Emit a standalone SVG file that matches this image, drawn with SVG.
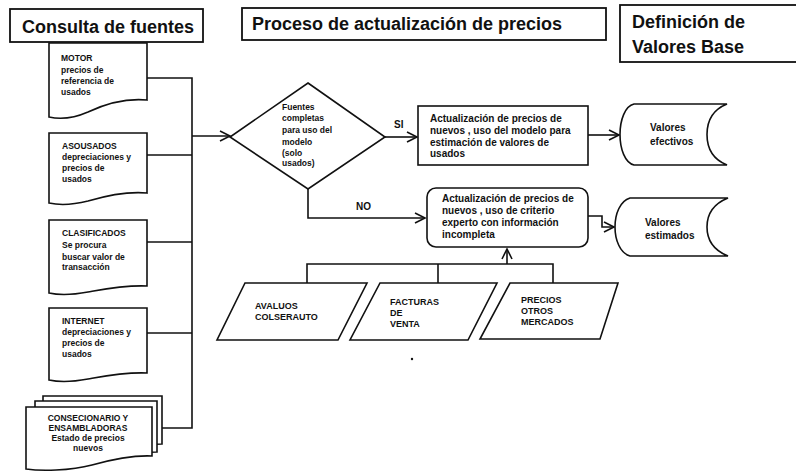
<svg xmlns="http://www.w3.org/2000/svg" width="796" height="476" viewBox="0 0 796 476">
<style>
  .shape { fill: #fff; stroke: #111; stroke-width: 1.6; }
  .hdr { fill: #fff; stroke: #111; stroke-width: 1.8; }
  .line { fill: none; stroke: #111; stroke-width: 1.6; }
  text { font-family: "Liberation Sans", Arial, sans-serif; font-weight: bold; fill: #111; }
  .h { font-size: 18px; }
  .s { font-size: 8.5px; }
  .m { font-size: 10px; }
  .p { font-size: 9px; }
</style>
<defs>
  <marker id="arr" markerUnits="userSpaceOnUse" markerWidth="14" markerHeight="14" refX="11" refY="6" orient="auto">
    <path d="M1,1 L11,6 L1,11" fill="none" stroke="#111" stroke-width="1.6"/>
  </marker>
</defs>
<rect width="796" height="476" fill="#fff"/>

<!-- Headers -->
<g id="hdr-consulta">
  <rect class="hdr" x="10" y="9" width="193" height="33"/>
  <text class="h" x="22" y="33">Consulta de fuentes</text>
</g>
<g id="hdr-proceso">
  <rect class="hdr" x="242" y="8" width="364" height="32"/>
  <text class="h" x="252" y="30">Proceso de actualización de precios</text>
</g>
<g id="hdr-definicion">
  <rect class="hdr" x="620" y="5" width="190" height="57"/>
  <text class="h" x="632" y="28">Definición de</text>
  <text class="h" x="632" y="53">Valores Base</text>
</g>

<!-- Connectors -->
<g id="connectors">
  <path class="line" d="M147,78 H192 V428 H162"/>
  <path class="line" d="M147,155 H192"/>
  <path class="line" d="M147,242 H192"/>
  <path class="line" d="M147,333 H192"/>
  <path class="line" d="M192,136 H230" marker-end="url(#arr)"/>
  <path class="line" d="M385,137 H417" marker-end="url(#arr)"/>
  <path class="line" d="M308,188 V218 H425" marker-end="url(#arr)"/>
  <path class="line" d="M588,135 H619" marker-end="url(#arr)"/>
  <path class="line" d="M588,216 H602 V227 H614" marker-end="url(#arr)"/>
  <path class="line" d="M307,283 V264 H553 V283"/>
  <path class="line" d="M438,264 V283"/>
  <path class="line" d="M507,264 V249" marker-end="url(#arr)"/>
  <text class="m" x="394" y="128">SI</text>
  <text class="m" x="356" y="210">NO</text>
</g>

<!-- Source documents -->
<g id="doc-motor">
  <path class="shape" d="M49,43 H147 V100 C125,98 105,104 88,112 C72,119 58,119 49,117 Z"/>
  <text class="s" x="61" y="61">MOTOR</text>
  <text class="s" x="61" y="73">precios de</text>
  <text class="s" x="61" y="84">referencia de</text>
  <text class="s" x="61" y="95">usados</text>
</g>
<g id="doc-asousados">
  <path class="shape" d="M49,133 H147 V193 C125,191 105,196 88,201 C72,205 58,205 49,203 Z"/>
  <text class="s" x="62" y="149">ASOUSADOS</text>
  <text class="s" x="62" y="160">depreciaciones y</text>
  <text class="s" x="62" y="171">precios de</text>
  <text class="s" x="62" y="182">usados</text>
</g>
<g id="doc-clasificados">
  <path class="shape" d="M49,220 H147 V286 C125,285 105,289 88,292 C72,295 58,295 49,293 Z"/>
  <text class="s" x="62" y="236">CLASIFICADOS</text>
  <text class="s" x="62" y="248">Se procura</text>
  <text class="s" x="62" y="260">buscar valor de</text>
  <text class="s" x="62" y="270">transacción</text>
</g>
<g id="doc-internet">
  <path class="shape" d="M49,308 H147 V373 C125,372 105,376 88,379 C72,382 58,382 49,380 Z"/>
  <text class="s" x="62" y="324">INTERNET</text>
  <text class="s" x="62" y="335">depreciaciones y</text>
  <text class="s" x="62" y="346">precios de</text>
  <text class="s" x="62" y="357">usados</text>
</g>
<g id="doc-consecionario">
  <path class="shape" d="M43,396 H162 V444 C150,444 140,446 130,448 L43,448 Z"/>
  <path class="shape" d="M35,401 H157 V452 C140,452 125,456 110,459 L35,459 Z"/>
  <path class="shape" d="M26,407 H152 V456 C130,455 110,460 92,465 C70,471 40,471 26,469 Z"/>
  <text class="s" x="88" y="421" text-anchor="middle">CONSECIONARIO Y</text>
  <text class="s" x="88" y="431" text-anchor="middle">ENSAMBLADORAS</text>
  <text class="s" x="88" y="441" text-anchor="middle">Estado de precios</text>
  <text class="s" x="88" y="451" text-anchor="middle">nuevos</text>
</g>

<!-- Decision -->
<g id="decision">
  <path class="shape" d="M308,83 L385,137 L308,189 L230,137 Z"/>
  <text class="s" x="282" y="110">Fuentes</text>
  <text class="s" x="282" y="121">completas</text>
  <text class="s" x="282" y="133">para uso del</text>
  <text class="s" x="282" y="145">modelo</text>
  <text class="s" x="282" y="156">(solo</text>
  <text class="s" x="282" y="166">usados)</text>
</g>

<!-- Process boxes -->
<g id="proc-modelo">
  <rect class="shape" x="418" y="106" width="170" height="59"/>
  <text class="m" x="430" y="122">Actualización de precios de</text>
  <text class="m" x="430" y="134">nuevos , uso del modelo para</text>
  <text class="m" x="430" y="146">estimación de valores de</text>
  <text class="m" x="430" y="157">usados</text>
</g>
<g id="proc-experto">
  <rect class="shape" x="427" y="188" width="161" height="59" rx="9" ry="9"/>
  <text class="m" x="442" y="202">Actualización de precios de</text>
  <text class="m" x="442" y="214">nuevos , uso de criterio</text>
  <text class="m" x="442" y="226">experto con  información</text>
  <text class="m" x="442" y="238">incompleta</text>
</g>

<!-- Stored data -->
<g id="store-efectivos">
  <path class="shape" d="M727,104 H634 C625,106 620,120 620,134.5 C620,149 625,163 634,165 H727 C712,159 707,147 707,134.5 C707,122 712,110 727,104 Z"/>
  <text class="m" x="650" y="131">Valores</text>
  <text class="m" x="650" y="145">efectivos</text>
</g>
<g id="store-estimados">
  <path class="shape" d="M728,198 H630 C620,201 615,214 615,227 C615,240 620,253 630,256 H728 C713,250 707,239 707,227 C707,215 713,204 728,198 Z"/>
  <text class="m" x="645" y="226">Valores</text>
  <text class="m" x="645" y="239">estimados</text>
</g>

<!-- Input parallelograms -->
<g id="in-avaluos">
  <path class="shape" d="M245,283 H367 L338,340 H217 Z"/>
  <text class="p" x="255" y="309">AVALUOS</text>
  <text class="p" x="255" y="320">COLSERAUTO</text>
</g>
<g id="in-facturas">
  <path class="shape" d="M380,283 H497 L468,340 H350 Z"/>
  <text class="p" x="390" y="305">FACTURAS</text>
  <text class="p" x="390" y="316">DE</text>
  <text class="p" x="390" y="327">VENTA</text>
</g>
<g id="in-precios">
  <path class="shape" d="M510,283 H618 L600,339 H480 Z"/>
  <text class="p" x="521" y="303">PRECIOS</text>
  <text class="p" x="521" y="314">OTROS</text>
  <text class="p" x="521" y="325">MERCADOS</text>
</g>
<circle cx="412" cy="359" r="1.2" fill="#111"/>
</svg>
